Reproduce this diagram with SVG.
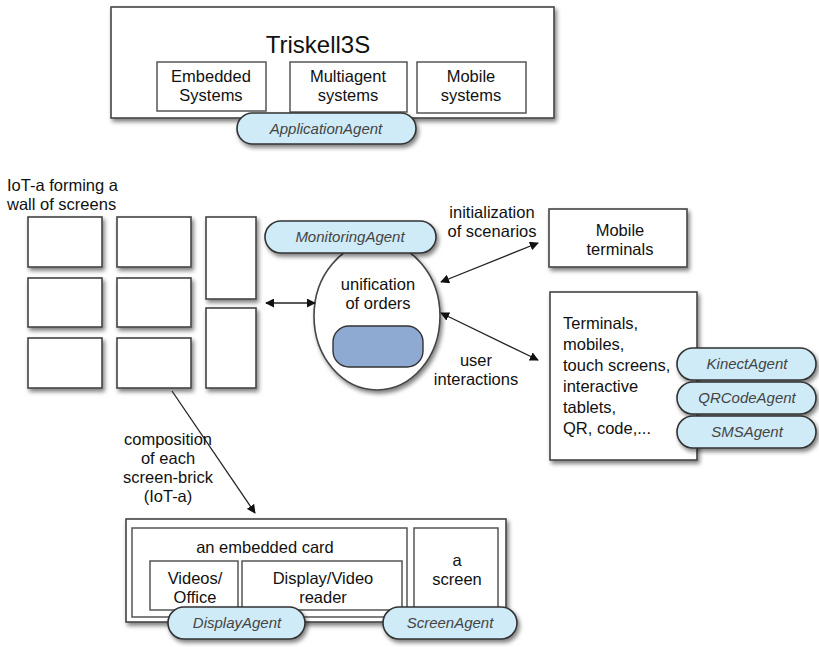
<svg xmlns="http://www.w3.org/2000/svg" width="819" height="647" viewBox="0 0 819 647">
  <defs>
    <filter id="shadow" x="-10%" y="-10%" width="130%" height="140%">
      <feDropShadow dx="2" dy="3" stdDeviation="2" flood-color="#000" flood-opacity="0.5"/>
    </filter>
    <marker id="arrow" viewBox="0 0 10 10" refX="9" refY="5" markerWidth="9" markerHeight="9" orient="auto-start-reverse" markerUnits="userSpaceOnUse">
      <path d="M0,0 L10,5 L0,10 z" fill="#111"/>
    </marker>
    <style>
      .box { fill: #fff; stroke: #444; stroke-width: 1.6; filter: url(#shadow); }
      .inner { fill: #fff; stroke: #555; stroke-width: 1.5; }
      .pill { fill: #cfebf7; stroke: #333; stroke-width: 1.6; filter: url(#shadow); }
      .t { font-family: "Liberation Sans", Arial, sans-serif; font-size: 16.5px; fill: #111; }
      .c { text-anchor: middle; }
      .agent { font-family: "Liberation Sans", Arial, sans-serif; font-size: 15px; font-style: italic; fill: #444; text-anchor: middle; }
      .conn { stroke: #222; stroke-width: 1.3; fill: none; }
    </style>
  </defs>

  <!-- Triskell3S platform -->
  <g id="triskell3s">
    <rect class="box" x="111" y="7" width="443" height="111"/>
    <text class="t c" x="318" y="53" style="font-size:24px">Triskell3S</text>
    <rect class="inner" x="157" y="62" width="109" height="49"/>
    <text class="t c" x="211" y="82">Embedded</text>
    <text class="t c" x="211" y="101">Systems</text>
    <rect class="inner" x="290" y="62" width="117" height="50"/>
    <text class="t c" x="348" y="82">Multiagent</text>
    <text class="t c" x="348" y="101">systems</text>
    <rect class="inner" x="417" y="62" width="109" height="51"/>
    <text class="t c" x="471" y="82">Mobile</text>
    <text class="t c" x="471" y="101">systems</text>
    <rect class="pill" x="237" y="113" width="179" height="31" rx="15.5"/>
    <text class="agent" x="326" y="134">ApplicationAgent</text>
  </g>

  <!-- wall of screens -->
  <g id="screen-wall">
    <text class="t" x="7" y="191">IoT-a forming a</text>
    <text class="t" x="7" y="210">wall of screens</text>
    <rect class="box" x="28" y="217" width="74" height="50"/>
    <rect class="box" x="117" y="217" width="74" height="50"/>
    <rect class="box" x="206" y="217" width="50" height="82"/>
    <rect class="box" x="28" y="278" width="74" height="49"/>
    <rect class="box" x="117" y="278" width="74" height="49"/>
    <rect class="box" x="206" y="308" width="50" height="80"/>
    <rect class="box" x="28" y="338" width="74" height="50"/>
    <rect class="box" x="117" y="338" width="74" height="50"/>
  </g>

  <!-- unification of orders -->
  <g id="unification">
    <ellipse class="box" cx="377" cy="316" rx="63" ry="74"/>
    <text class="t c" x="378" y="290">unification</text>
    <text class="t c" x="378" y="309">of orders</text>
    <rect x="333" y="326" width="90" height="41" rx="16" fill="#8eaad2" stroke="#333" stroke-width="1.4"/>
    <rect class="pill" x="265" y="221" width="171" height="32" rx="16"/>
    <text class="agent" x="350" y="242">MonitoringAgent</text>
  </g>

  <!-- mobile terminals -->
  <g id="mobile-terminals">
    <rect class="box" x="549" y="209" width="138" height="58"/>
    <text class="t c" x="620" y="236">Mobile</text>
    <text class="t c" x="620" y="255">terminals</text>
  </g>

  <!-- interaction terminals -->
  <g id="terminals">
    <rect class="box" x="550" y="292" width="147" height="168"/>
    <text class="t" x="563" y="329">Terminals,</text>
    <text class="t" x="563" y="350">mobiles,</text>
    <text class="t" x="563" y="371">touch screens,</text>
    <text class="t" x="563" y="392">interactive</text>
    <text class="t" x="563" y="413">tablets,</text>
    <text class="t" x="563" y="434">QR, code,...</text>
    <rect class="pill" x="677" y="348" width="139" height="32" rx="16"/>
    <text class="agent" x="747" y="369">KinectAgent</text>
    <rect class="pill" x="677" y="382" width="139" height="32" rx="16"/>
    <text class="agent" x="747" y="403">QRCodeAgent</text>
    <rect class="pill" x="677" y="416" width="139" height="32" rx="16"/>
    <text class="agent" x="747" y="437">SMSAgent</text>
  </g>

  <!-- screen brick composition -->
  <g id="screen-brick">
    <rect class="box" x="126" y="519" width="380" height="103"/>
    <rect class="inner" x="132" y="528" width="275" height="89"/>
    <text class="t c" x="265" y="553">an embedded card</text>
    <rect class="inner" x="150" y="561" width="88" height="49"/>
    <text class="t c" x="195" y="584">Videos/</text>
    <text class="t c" x="195" y="603">Office</text>
    <rect class="inner" x="242" y="561" width="160" height="49"/>
    <text class="t c" x="323" y="584">Display/Video</text>
    <text class="t c" x="323" y="603">reader</text>
    <rect class="inner" x="414" y="528" width="84" height="89"/>
    <text class="t c" x="457" y="566">a</text>
    <text class="t c" x="457" y="585">screen</text>
    <rect class="pill" x="168" y="607" width="137" height="32" rx="16"/>
    <text class="agent" x="237" y="628">DisplayAgent</text>
    <rect class="pill" x="383" y="607" width="134" height="32" rx="16"/>
    <text class="agent" x="450" y="628">ScreenAgent</text>
  </g>

  <!-- connectors and their labels -->
  <g id="connectors">
    <line class="conn" x1="266" y1="303" x2="315" y2="303" marker-start="url(#arrow)" marker-end="url(#arrow)"/>
    <line class="conn" x1="441" y1="282" x2="538" y2="243" marker-start="url(#arrow)" marker-end="url(#arrow)"/>
    <line class="conn" x1="441" y1="313" x2="538" y2="360" marker-start="url(#arrow)" marker-end="url(#arrow)"/>
    <line class="conn" x1="172" y1="391" x2="255" y2="513" marker-end="url(#arrow)"/>
    <text class="t c" x="492" y="218">initialization</text>
    <text class="t c" x="492" y="237">of scenarios</text>
    <text class="t c" x="476" y="366">user</text>
    <text class="t c" x="476" y="385">interactions</text>
    <text class="t c" x="168" y="445">composition</text>
    <text class="t c" x="168" y="464">of each</text>
    <text class="t c" x="168" y="483">screen-brick</text>
    <text class="t c" x="168" y="502">(IoT-a)</text>
  </g>
</svg>
